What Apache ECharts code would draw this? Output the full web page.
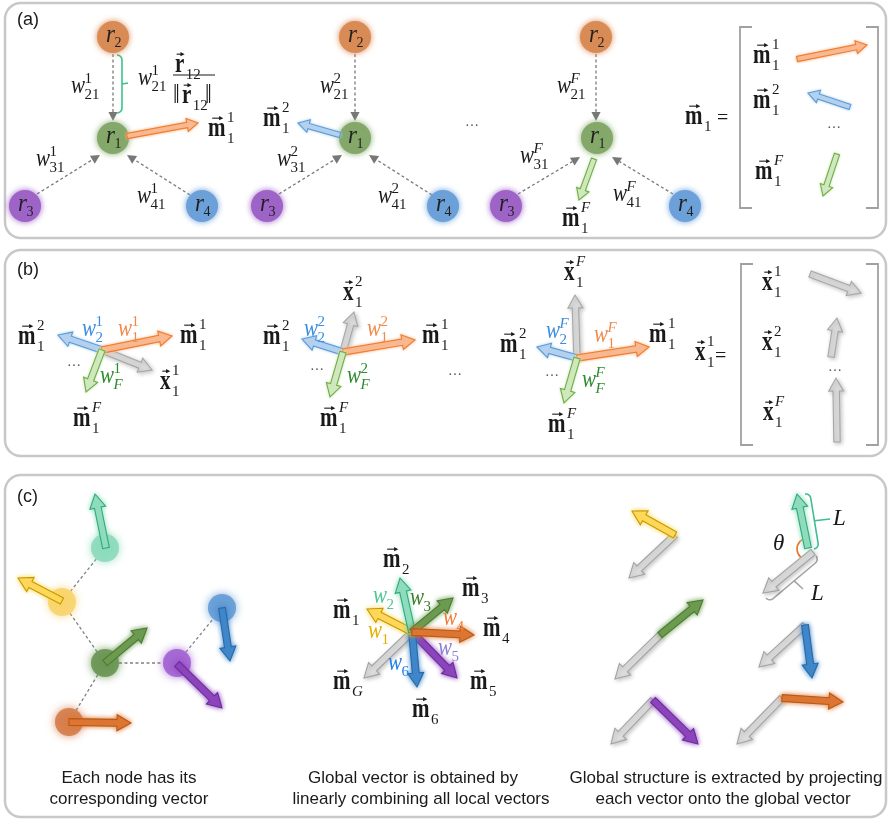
<!DOCTYPE html>
<html><head><meta charset="utf-8">
<script src="https://cdn.jsdelivr.net/npm/echarts@6.0.0/dist/echarts.min.js"></script>
<style>html,body{margin:0;padding:0;background:#fff}#chart{width:888px;height:821px}</style>
</head><body><div id="chart"></div>
<script>
// ---------------- data (reference-pixel diagram coordinates) ----------------
const panelBoxes = [[5,3,881,235],[5,250,881,206],[5,475,881,342]];
const panelTags = [[17,20,'(a)'],[17,270,'(b)'],[17,497,'(c)']];
const captions = [
  [129,778,'Each node has its'],[129,799,'corresponding vector'],
  [413,778,'Global vector is obtained by'],[421,799,'linearly combining all local vectors'],
  [726,778,'Global structure is extracted by projecting'],[723,799,'each vector onto the global vector']
];
const matrixBrackets = [[740,27,878,208],[741,264,878,445]];
// nodes of panel (a): x, y, index, colour
const nodesA = [
  [113,37,'2','orange'],[113,138,'1','green'],[25,206,'3','purple'],[202,206,'4','blue'],
  [355,37,'2','orange'],[355,138,'1','green'],[267,206,'3','purple'],[443,206,'4','blue'],
  [596,37,'2','orange'],[597,138,'1','green'],[506,206,'3','purple'],[685,206,'4','blue']
];
const dashedArrowsA = [
  [113,54,113,121],[37,194,100,155],[190,195,127,155],
  [355,54,355,121],[279,194,342,155],[432,195,369,155],
  [596,54,596,121],[518,194,580,157],[673,194,612,157]
];
const nodesC = [[105,548,'teal'],[62,602,'yellow'],[105,663,'green'],[177,663,'purple'],[222,608,'blue'],[69,722,'orange']];
const dashedEdgesC = [[105,548,62,602],[62,602,105,663],[105,663,69,722],[105,663,177,663],[177,663,222,608]];
const arrowsA = [
  [127,136,198,123,'orange'],[340,135,298,123,'blue'],[594,159,579,200,'green'],
  [797,59,867,45,'orange'],[850,107,808,93,'blue'],[837,154,823,196,'green']
];
const arrowsB = [
  [102,350,152,370,'gray'],[102,350,58,335,'blue'],[102,350,172,336,'orange'],[102,350,86,392,'green'],
  [343,352,354,312,'gray'],[343,352,302,339,'blue'],[343,352,415,340,'orange'],[343,352,330,397,'green'],
  [577,358,575,295,'gray'],[577,358,537,347,'blue'],[577,358,649,347,'orange'],[577,358,564,403,'green'],
  [810,274,861,293,'gray'],[831,357,837,318,'gray'],[837,442,836,378,'gray']
];
const arrowsC = [
  [106,548,95,494,'teal'],[62,601,18,578,'yellow'],[105,663,147,628,'green'],
  [177,664,222,708,'purple'],[222,608,230,661,'blue'],[69,722,131,723,'orange'],
  [412,632,364,678,'gray'],[412,632,457,678,'purple'],[412,632,417,687,'blue'],[412,632,367,609,'yellow'],
  [412,632,400,578,'teal'],[412,632,453,598,'green'],[412,632,474,635,'orange'],
  [675,535,629,578,'gray'],[675,535,632,511,'yellow'],
  [813,552,763,593,'gray'],[808,548,797,494,'teal'],
  [660,635,615,679,'gray'],[660,635,703,600,'green'],
  [805,625,759,667,'gray'],[805,625,812,678,'blue'],
  [653,700,611,744,'gray'],[653,700,698,744,'purple'],
  [782,698,737,744,'gray'],[782,698,843,702,'orange']
];
// braces: end A, end B, tick tip, colour
const braces = [[117,55,117,113,128,83,'green'],[805,494,814,549,830,519,'teal'],[816,556,766,598,803,589,'gray']];
const angleArcs = [[808,549,11,132,239]];
const fractionBars = [[173,75,215,75]];
// math labels: x, y, kind (v = bold vector, i = italic), base, sub, sup, colour
const mathLabels = [
  [208,130,'v','m','1','1','ink'],[263,120,'v','m','1','2','ink'],[562,220,'v','m','1','F','ink'],
  [685,118,'v','m','1','','ink'],[753,57,'v','m','1','1','ink'],[753,102,'v','m','1','2','ink'],[755,173,'v','m','1','F','ink'],
  [175,66,'v','r','12','','ink'],[182,97,'v','r','12','','ink'],
  [71,88,'i','w','21','1','ink'],[36,161,'i','w','31','1','ink'],[137,198,'i','w','41','1','ink'],[138,80,'i','w','21','1','ink'],
  [320,88,'i','w','21','2','ink'],[277,161,'i','w','31','2','ink'],[378,198,'i','w','41','2','ink'],
  [557,88,'i','w','21','F','ink'],[520,158,'i','w','31','F','ink'],[613,196,'i','w','41','F','ink'],
  [18,338,'v','m','1','2','ink'],[180,337,'v','m','1','1','ink'],[160,383,'v','x','1','1','ink'],[73,420,'v','m','1','F','ink'],
  [343,294,'v','x','1','2','ink'],[263,338,'v','m','1','2','ink'],[422,337,'v','m','1','1','ink'],[320,420,'v','m','1','F','ink'],
  [564,274,'v','x','1','F','ink'],[500,346,'v','m','1','2','ink'],[649,336,'v','m','1','1','ink'],[548,426,'v','m','1','F','ink'],
  [695,354,'v','x','1','1','ink'],[762,284,'v','x','1','1','ink'],[762,344,'v','x','1','2','ink'],[763,414,'v','x','1','F','ink'],
  [82,331,'i','w','2','1','wBlue'],[118,331,'i','w','1','1','wOrange'],[100,378,'i','w','F','1','wGreen'],
  [304,331,'i','w','2','2','wBlue'],[367,331,'i','w','1','2','wOrange'],[347,378,'i','w','F','2','wGreen'],
  [546,333,'i','w','2','F','wBlue'],[594,337,'i','w','1','F','wOrange'],[582,382,'i','w','F','F','wGreen'],
  [333,612,'v','m','1','','ink'],[383,561,'v','m','2','','ink'],[462,590,'v','m','3','','ink'],[483,630,'v','m','4','','ink'],
  [470,683,'v','m','5','','ink'],[412,711,'v','m','6','','ink'],[333,683,'v','m','G','','ink'],
  [368,633,'i','w','1','','cYellow'],[373,598,'i','w','2','','cTeal'],[410,600,'i','w','3','','cGreen'],
  [443,620,'i','w','4','','cOrange'],[438,650,'i','w','5','','cPurple'],[388,665,'i','w','6','','cBlue']
];
// plain symbols: x, y, text, kind
const plainTexts = [
  [717,120,'=','eq'],[715,358,'=','eq'],
  [465,123,'…','dots'],[827,125,'…','dots'],[67,363,'…','dots'],[310,367,'…','dots'],[448,372,'…','dots'],[545,373,'…','dots'],[828,368,'…','dots'],
  [173,97,'‖','norm'],[205,97,'‖','norm'],
  [773,545,'θ','sym'],[833,520,'L','sym'],[811,595,'L','sym']
];

// ---------------- styles ----------------
const SERIF = '"Liberation Serif","Times New Roman","DejaVu Serif",serif';
const SANS = '"Liberation Sans",Arial,"DejaVu Sans",sans-serif';
const INK = {ink:'#1a1a1a',wBlue:'#3a8de0',wOrange:'#f08a4b',wGreen:'#2e8b2e',cYellow:'#e2b000',cTeal:'#4fc497',
  cGreen:'#3b7d2a',cOrange:'#f07c36',cPurple:'#8a80d6',cBlue:'#1f7fe6'};
const LIGHT = {orange:{fill:'#f9b88f',stroke:'#ed7d31'},blue:{fill:'#b3d1ef',stroke:'#5b9bd5'},
  green:{fill:'#cfe8bd',stroke:'#70ad47'},gray:{fill:'#dcdcdc',stroke:'#a8a8a8'}};
const DARK = {teal:{fill:'#8fdcbd',stroke:'#2faa7c'},yellow:{fill:'#ffd75a',stroke:'#c49a00'},
  green:{fill:'#6c9b50',stroke:'#4d7a35'},purple:{fill:'#8c45bc',stroke:'#6b2c99'},
  blue:{fill:'#3f87c9',stroke:'#2a69a6'},orange:{fill:'#dc7632',stroke:'#b95a16'},gray:{fill:'#dedede',stroke:'#a3a3a3'}};
const NODE_A = {orange:'#d98b56',green:'#83a86a',purple:'#9e63c6',blue:'#6ca0d8'};
const NODE_C = {teal:'rgba(140,218,187,0.9)',yellow:'rgba(248,212,110,0.92)',green:'rgba(106,150,86,0.92)',
  purple:'rgba(163,100,210,0.92)',blue:'rgba(102,156,214,0.92)',orange:'rgba(214,126,76,0.92)'};
const BRACE = {green:'#3cc28a',teal:'#3dbf8e',gray:'#a5a5a5'};

// ---------------- helpers ----------------
const mc = document.createElement('canvas').getContext('2d');
function tw(t,f){mc.font=f;return mc.measureText(t).width;}
function txt(x,y,t,f,fill,align,sy){
  return {type:'text',x:x,y:y,scaleY:sy||1,style:{text:t,font:f,fill:fill,align:align||'left',verticalAlign:'middle',
    textAlign:align||'left',textVerticalAlign:'middle'}};
}
function isLetter(s){return /^[A-Za-z]+$/.test(s);}
function vecArrow(cx,y,len,col){
  const x1=cx-len/2,x2=cx+len/2;
  return [{type:'line',shape:{x1:x1,y1:y,x2:x2-2,y2:y},style:{stroke:col,lineWidth:1.1}},
    {type:'polygon',shape:{points:[[x2+1,y],[x2-3.2,y-2.2],[x2-3.2,y+2.2]]},style:{fill:col}}];
}
function mathEls(px,py,kind,base,sub,sup,color,size){
  const bold = kind==='v';
  size = size || (bold?21:21);
  const sy = bold?1.32:1.15;
  const f=(bold?'bold ':'italic ')+size+'px '+SERIF;
  const bw=tw(base,f);
  const els=[txt(px,py-1,base,f,color,'left',sy)];
  const xh=size*0.457*sy;
  if(bold) els.push(...vecArrow(px+bw/2+0.5,py-xh/2-5.5,Math.max(7,bw*0.58),color));
  const ss=15;
  const sx=px+bw+(bold?1.5:-0.5);
  const sf=s=>(isLetter(s)?'italic ':'')+ss+'px '+SERIF;
  if(sup) els.push(txt(sx,py+(bold?-12:-8.5),sup,sf(sup),color));
  if(sub) els.push(txt(sx,py+(bold?9:7.5),sub,sf(sub),color));
  return els;
}
function arrowPts(a,b,s,h,L){
  const dx=b[0]-a[0],dy=b[1]-a[1],len=Math.hypot(dx,dy),ux=dx/len,uy=dy/len,nx=-uy,ny=ux;
  const hl=Math.min(L,len*0.6),bx=b[0]-ux*hl,by=b[1]-uy*hl;
  return [[a[0]+nx*s,a[1]+ny*s],[bx+nx*s,by+ny*s],[bx+nx*h,by+ny*h],[b[0],b[1]],
    [bx-nx*h,by-ny*h],[bx-nx*s,by-ny*s],[a[0]-nx*s,a[1]-ny*s]];
}
function blockArrow(P,d,pal,s,h,L,glow){
  const c=pal[d[4]];
  const gray=d[4]==='gray';
  return [{type:'polygon',shape:{points:arrowPts(P(d[0],d[1]),P(d[2],d[3]),s,h,L)},
    style:{fill:c.fill,stroke:c.stroke,lineWidth:1.1,lineJoin:'miter',
      shadowBlur:gray?4:glow,shadowColor:gray?'rgba(0,0,0,0.22)':c.fill,shadowOffsetX:gray?1.5:0,shadowOffsetY:gray?1.5:0}}];
}
function makeSeries(arr,build){
  return {type:'custom',coordinateSystem:'cartesian2d',silent:true,clip:false,animation:false,
    data:arr.map((d,i)=>[typeof d[0]==='number'?d[0]:0,typeof d[1]==='number'?d[1]:0,i]),
    renderItem:function(params,api){
      const d=arr[params.dataIndex];
      const P=(x,y)=>api.coord([x,y]);
      return {type:'group',children:build(d,P)};
    }};
}
function braceEls(d,P){
  const A=P(d[0],d[1]),B=P(d[2],d[3]),T=P(d[4],d[5]);
  const len=Math.hypot(B[0]-A[0],B[1]-A[1]),ux=(B[0]-A[0])/len,uy=(B[1]-A[1])/len;
  let nx=-uy,ny=ux;const M=[(A[0]+B[0])/2,(A[1]+B[1])/2];
  if((T[0]-M[0])*nx+(T[1]-M[1])*ny<0){nx=-nx;ny=-ny;}
  const r=5,pts=[];
  for(let k=0;k<=6;k++){
    const t=k/6*Math.PI/2,sn=Math.sin(t),cs=1-Math.cos(t);
    pts.push([A[0]+nx*r*sn+ux*r*cs, A[1]+ny*r*sn+uy*r*cs]);
  }
  for(let k=6;k>=0;k--){
    const t=k/6*Math.PI/2,sn=Math.sin(t),cs=1-Math.cos(t);
    pts.push([B[0]+nx*r*sn-ux*r*cs, B[1]+ny*r*sn-uy*r*cs]);
  }
  const col=BRACE[d[6]];
  return [{type:'polyline',shape:{points:pts},style:{stroke:col,lineWidth:1.6,fill:'none'}},
    {type:'line',shape:{x1:M[0]+nx*r,y1:M[1]+ny*r,x2:T[0],y2:T[1]},style:{stroke:col,lineWidth:1.6}}];
}

// ---------------- builders ----------------
const series = [
  makeSeries(panelBoxes,(d,P)=>{const a=P(d[0],d[1]),b=P(d[0]+d[2],d[1]+d[3]);
    return [{type:'rect',shape:{x:a[0],y:a[1],width:b[0]-a[0],height:b[1]-a[1],r:16},style:{fill:'none',stroke:'#c8c8c8',lineWidth:2.5}}];}),
  makeSeries(panelTags,(d,P)=>{const p=P(d[0],d[1]);return [txt(p[0],p[1],d[2],'18px '+SANS,'#1a1a1a')];}),
  makeSeries(captions,(d,P)=>{const p=P(d[0],d[1]);return [txt(p[0],p[1],d[2],'17px '+SANS,'#1a1a1a','center')];}),
  makeSeries(matrixBrackets,(d,P)=>{const a=P(d[0],d[1]),b=P(d[2],d[3]),t=12,st={stroke:'#a0a0a0',lineWidth:1.8,fill:'none'};
    return [{type:'polyline',shape:{points:[[a[0]+t,a[1]],[a[0],a[1]],[a[0],b[1]],[a[0]+t,b[1]]]},style:st},
      {type:'polyline',shape:{points:[[b[0]-t,a[1]],[b[0],a[1]],[b[0],b[1]],[b[0]-t,b[1]]]},style:st}];}),
  makeSeries(dashedArrowsA,(d,P)=>{const a=P(d[0],d[1]),b=P(d[2],d[3]);
    const dx=b[0]-a[0],dy=b[1]-a[1],len=Math.hypot(dx,dy),ux=dx/len,uy=dy/len,nx=-uy,ny=ux,L=9,h=4.6;
    const bx=b[0]-ux*L,by=b[1]-uy*L;
    return [{type:'line',shape:{x1:a[0],y1:a[1],x2:bx,y2:by},style:{stroke:'#7a7a7a',lineWidth:1.3,lineDash:[3,2.5]}},
      {type:'polygon',shape:{points:[[b[0],b[1]],[bx+nx*h,by+ny*h],[bx-nx*h,by-ny*h]]},style:{fill:'#777'}}];}),
  makeSeries(dashedEdgesC,(d,P)=>{const a=P(d[0],d[1]),b=P(d[2],d[3]);
    const dx=b[0]-a[0],dy=b[1]-a[1],len=Math.hypot(dx,dy),ux=dx/len,uy=dy/len,r=14;
    return [{type:'line',shape:{x1:a[0]+ux*r,y1:a[1]+uy*r,x2:b[0]-ux*r,y2:b[1]-uy*r},style:{stroke:'#808080',lineWidth:1.3,lineDash:[3,2.5]}}];}),
  makeSeries(braces,braceEls),
  makeSeries(angleArcs,(d,P)=>{const c=P(d[0],d[1]);
    return [{type:'arc',shape:{cx:c[0],cy:c[1],r:d[2],startAngle:d[3]*Math.PI/180,endAngle:d[4]*Math.PI/180,clockwise:true},style:{stroke:'#e8752a',fill:'none',lineWidth:1.6}}];}),
  makeSeries(fractionBars,(d,P)=>{const a=P(d[0],d[1]),b=P(d[2],d[3]);
    return [{type:'line',shape:{x1:a[0],y1:a[1],x2:b[0],y2:b[1]},style:{stroke:'#1a1a1a',lineWidth:1.2}}];}),
  makeSeries(nodesA,(d,P)=>{const c=P(d[0],d[1]),col=NODE_A[d[3]];
    return [{type:'circle',shape:{cx:c[0],cy:c[1],r:16},style:{fill:col,shadowBlur:6,shadowColor:col}},
      {type:'text',x:c[0]-7,y:c[1]-2,scaleY:1.1,style:{text:'r',font:'italic 23px '+SERIF,fill:'#1f1f1f',align:'left',verticalAlign:'middle'}},
      txt(c[0]+1.5,c[1]+6,d[2],'14px '+SERIF,'#1f1f1f')];}),
  makeSeries(nodesC,(d,P)=>{const c=P(d[0],d[1]),col=NODE_C[d[2]];
    return [{type:'circle',shape:{cx:c[0],cy:c[1],r:14},style:{fill:col,shadowBlur:9,shadowColor:col}}];}),
  makeSeries(arrowsA,(d,P)=>blockArrow(P,d,LIGHT,2.7,6.5,11,3)),
  makeSeries(arrowsB,(d,P)=>blockArrow(P,d,LIGHT,3.2,7.5,13,3)),
  makeSeries(arrowsC,(d,P)=>blockArrow(P,d,DARK,3.4,8,14,5)),
  makeSeries(mathLabels,(d,P)=>{const p=P(d[0],d[1]);return mathEls(p[0],p[1],d[2],d[3],d[4],d[5],INK[d[6]]);}),
  makeSeries(plainTexts,(d,P)=>{const p=P(d[0],d[1]);
    const f={eq:'20px '+SERIF,dots:'14px '+SERIF,norm:'24px '+SERIF,sym:'italic 23px '+SERIF}[d[3]];
    return [txt(p[0],p[1]-1,d[2],f,d[3]==='dots'?'#555':'#1a1a1a','left',d[3]==='norm'?1.15:1)];})
];

const chart = echarts.init(document.getElementById('chart'),null,{renderer:'canvas'});
chart.setOption({
  animation:false,
  backgroundColor:'#fff',
  grid:{left:0,right:0,top:0,bottom:0},
  xAxis:{type:'value',min:0,max:888,show:false},
  yAxis:{type:'value',min:0,max:821,inverse:true,show:false},
  series:series
});
</script></body></html>
